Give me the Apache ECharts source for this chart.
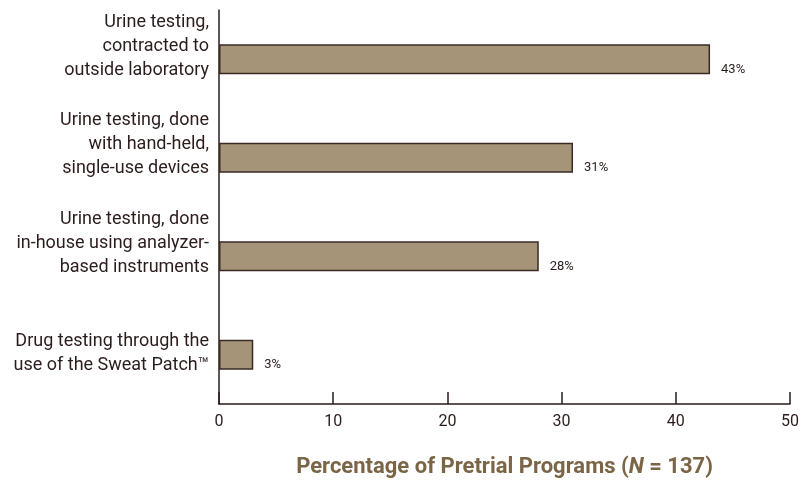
<!DOCTYPE html>
<html>
<head>
<meta charset="utf-8">
<script src="https://cdn.jsdelivr.net/npm/echarts@6/dist/echarts.min.js"></script>
<style>
  html, body { margin: 0; padding: 0; background: #fff; }
  #chart { width: 804px; height: 481px; }
</style>
</head>
<body>
<div id="chart"></div>
<script>
/* Categories listed bottom-to-top (category axis on y runs upward) */
const CATEGORIES = [
  'Drug testing through the\nuse of the Sweat Patch™',
  'Urine testing, done\nin-house using analyzer-\nbased instruments',
  'Urine testing, done\nwith hand-held,\nsingle-use devices',
  'Urine testing,\ncontracted to\noutside laboratory'
]
const VALUES = [3, 28, 31, 43]
const X_TICKS = [0, 10, 20, 30, 40, 50]

const FONT = '"Liberation Sans Narrow", "Roboto", "Liberation Sans", sans-serif'
const INK = '#2b1d1c'

const chart = echarts.init(document.getElementById('chart'))
chart.setOption({
  animation: false,
  grid: { left: 219, right: 14, top: 10, bottom: 77, containLabel: false, outerBoundsMode: 'none' },
  xAxis: {
    type: 'value',
    min: X_TICKS[0],
    max: X_TICKS[X_TICKS.length - 1],
    interval: 10,
    axisLine: { show: true, lineStyle: { color: INK, width: 1.5 } },
    axisTick: { show: true, inside: true, length: 12, lineStyle: { color: INK, width: 1.5 } },
    splitLine: { show: false },
    axisLabel: { color: INK, fontFamily: FONT, fontSize: 16, margin: 10 },
    name: 'Percentage of Pretrial Programs ({i|N} = 137)',
    nameLocation: 'middle',
    nameGap: 52,
    nameTextStyle: {
      color: '#7a6547', fontFamily: FONT, fontSize: 22, fontWeight: 'bold',
      rich: { i: { color: '#7a6547', fontFamily: FONT, fontSize: 22, fontWeight: 'bold', fontStyle: 'italic' } }
    }
  },
  yAxis: {
    type: 'category',
    data: CATEGORIES,
    axisLine: { show: true, lineStyle: { color: INK, width: 1.5 } },
    axisTick: { show: false },
    axisLabel: {
      color: INK, fontFamily: FONT, fontSize: 18, lineHeight: 24,
      align: 'right', margin: 10, verticalAlign: 'bottom',
      padding: [0, 0, -23, 0]
    }
  },
  series: [{
    type: 'bar',
    data: VALUES,
    barWidth: 30,
    itemStyle: { color: '#a69479', borderColor: '#3b2a24', borderWidth: 1.5 },
    label: {
      show: true,
      position: 'right',
      offset: [6, 10],
      formatter: '{c}%',
      color: INK,
      fontFamily: FONT,
      fontSize: 13
    }
  }]
})
</script>
</body>
</html>
